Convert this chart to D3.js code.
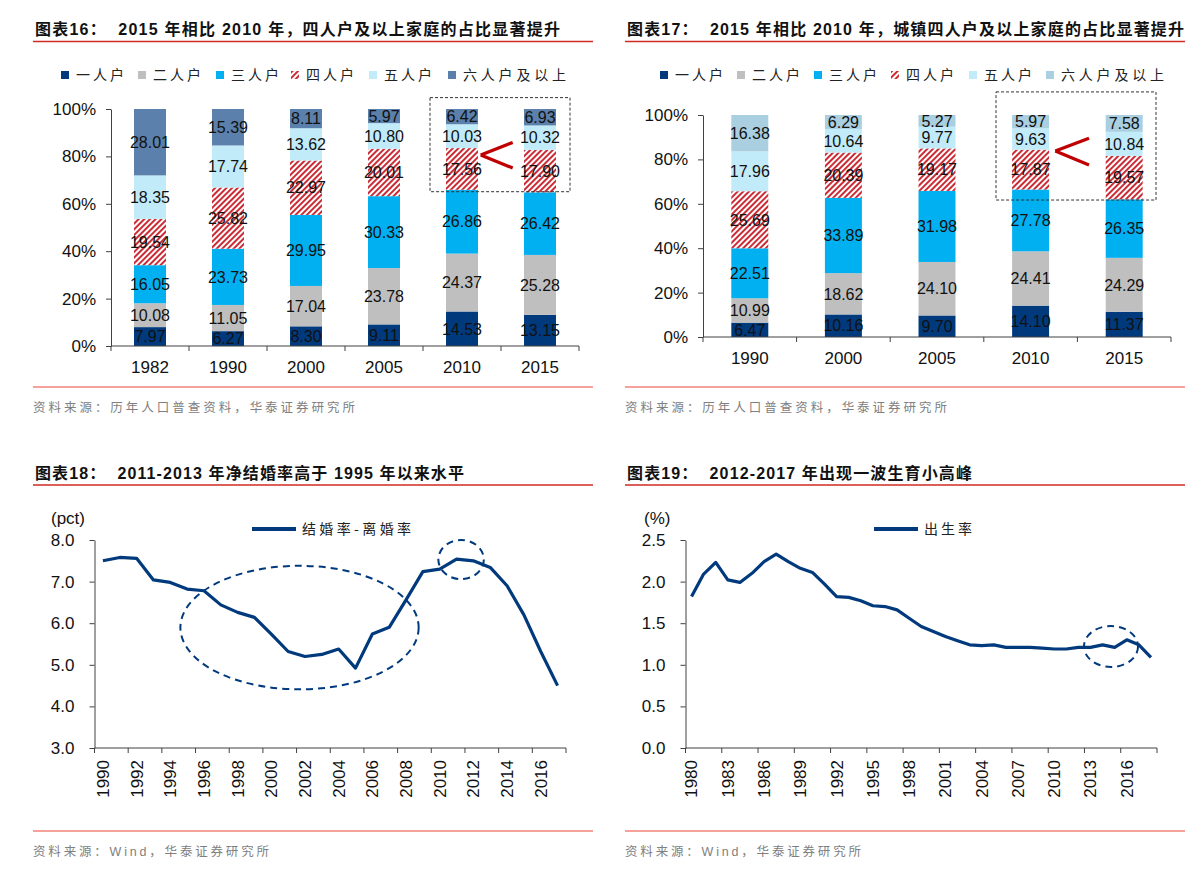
<!DOCTYPE html>
<html><head><meta charset="utf-8">
<script src="https://cdn.jsdelivr.net/npm/d3@7"></script>
<style>body{margin:0;background:#fff}svg{display:block}</style>
</head><body>
<svg id="c" width="1201" height="878"></svg>
<script>
// ---------- DATA ----------
const seriesNames = ["一人户","二人户","三人户","四人户","五人户","六人户及以上"];

const years16 = ["1982","1990","2000","2005","2010","2015"];
const one16   = [7.97, 6.27, 8.30, 9.11, 14.53, 13.15];
const two16   = [10.08, 11.05, 17.04, 23.78, 24.37, 25.28];
const three16 = [16.05, 23.73, 29.95, 30.33, 26.86, 26.42];
const four16  = [19.54, 25.82, 22.97, 20.01, 17.56, 17.90];
const five16  = [18.35, 17.74, 13.62, 10.80, 10.03, 10.32];
const six16   = [28.01, 15.39, 8.11, 5.97, 6.42, 6.93];

const years17 = ["1990","2000","2005","2010","2015"];
const one17   = [6.47, 10.16, 9.70, 14.10, 11.37];
const two17   = [10.99, 18.62, 24.10, 24.41, 24.29];
const three17 = [22.51, 33.89, 31.98, 27.78, 26.35];
const four17  = [25.69, 20.39, 19.17, 17.87, 19.57];
const five17  = [17.96, 10.64, 9.77, 9.63, 10.84];
const six17   = [16.38, 6.29, 5.27, 5.97, 7.58];

const years18 = ["1990","1991","1992","1993","1994","1995","1996","1997","1998","1999",
  "2000","2001","2002","2003","2004","2005","2006","2007","2008","2009",
  "2010","2011","2012","2013","2014","2015","2016","2017"];
const netMarriage = [7.50,7.58,7.56,7.04,6.98,6.82,6.78,6.44,6.26,6.14,
  5.74,5.32,5.20,5.25,5.38,4.92,5.74,5.90,6.56,7.24,
  7.30,7.54,7.50,7.34,6.90,6.20,5.32,4.50];
const yTicks18 = [3,4,5,6,7,8];

const years19 = ["1980","1981","1982","1983","1984","1985","1986","1987","1988","1989",
  "1990","1991","1992","1993","1994","1995","1996","1997","1998","1999",
  "2000","2001","2002","2003","2004","2005","2006","2007","2008","2009",
  "2010","2011","2012","2013","2014","2015","2016","2017","2018"];
const birthRate = [1.82,2.09,2.23,2.02,1.99,2.10,2.24,2.33,2.24,2.16,
  2.11,1.97,1.82,1.81,1.77,1.71,1.70,1.66,1.56,1.46,
  1.40,1.34,1.29,1.24,1.23,1.24,1.21,1.21,1.21,1.20,
  1.19,1.19,1.21,1.21,1.24,1.21,1.30,1.24,1.09];
const yTicks19 = [0,0.5,1.0,1.5,2.0,2.5];

const pctTicks = [0,0.2,0.4,0.6,0.8,1.0];

// ---------- STYLE ----------
const NAVY = "#003a7d", GRAY = "#bfbfbf", BLUE = "#00b0f0", LBLUE = "#c2ebfa";
const colors16 = [NAVY, GRAY, BLUE, "url(#hatch)", LBLUE, "#5b80ab"];
const colors17 = [NAVY, GRAY, BLUE, "url(#hatch)", LBLUE, "#a9cfe0"];
const NUM = "'Liberation Sans', Arial, 'Noto Sans CJK SC', sans-serif";
const CJK = "'Liberation Sans', 'Noto Sans CJK SC', sans-serif";
const AXIS = "#404040";
const AXFS = 17;

const svg = d3.select("#c");
const defs = svg.append("defs");
const pat = defs.append("pattern").attr("id","hatch").attr("patternUnits","userSpaceOnUse")
  .attr("width",4).attr("height",4).attr("patternTransform","rotate(45)");
pat.append("rect").attr("width",4).attr("height",4).attr("fill","#fff");
pat.append("line").attr("x1",1).attr("y1",-1).attr("x2",1).attr("y2",5)
  .attr("stroke","#c8202a").attr("stroke-width",1.9);

// ---------- FRAME (titles, rules, sources) ----------
function frame(f){
  svg.append("text").attr("x",f.x).attr("y",f.ty).attr("font-family",CJK).attr("font-weight","bold")
    .attr("font-size",16).attr("fill","#111").attr("textLength",f.tw).attr("lengthAdjust","spacing")
    .style("white-space","pre").text(f.title);
  svg.append("line").attr("x1",f.lx0).attr("x2",f.lx1).attr("y1",f.ry).attr("y2",f.ry)
    .attr("stroke","#d02a22").attr("stroke-width",1.5);
  svg.append("line").attr("x1",f.lx0).attr("x2",f.lx1).attr("y1",f.by).attr("y2",f.by)
    .attr("stroke","#f2837a").attr("stroke-width",1.5);
  svg.append("text").attr("x",f.x-2).attr("y",f.sy).attr("font-family",CJK).attr("font-size",12.5)
    .attr("fill","#808080").attr("textLength",f.sw).attr("lengthAdjust","spacing").text(f.source);
}
frame({x:35,ty:35,tw:525,title:"图表16：  2015 年相比 2010 年，四人户及以上家庭的占比显著提升",lx0:33,lx1:593,ry:41.5,by:387,sy:412,sw:322,source:"资料来源：历年人口普查资料，华泰证券研究所"});
frame({x:627,ty:35,tw:557,title:"图表17：  2015 年相比 2010 年，城镇四人户及以上家庭的占比显著提升",lx0:625,lx1:1185,ry:41.5,by:387,sy:412,sw:322,source:"资料来源：历年人口普查资料，华泰证券研究所"});
frame({x:35,ty:479,tw:429,title:"图表18：  2011-2013 年净结婚率高于 1995 年以来水平",lx0:33,lx1:593,ry:485,by:831,sy:856,sw:236,source:"资料来源：Wind，华泰证券研究所"});
frame({x:627,ty:479,tw:345,title:"图表19：  2012-2017 年出现一波生育小高峰",lx0:625,lx1:1185,ry:485,by:831,sy:856,sw:236,source:"资料来源：Wind，华泰证券研究所"});

// ---------- STACKED BAR PANELS ----------
function stackedPanel(o){
  const g = svg.append("g");
  const rows = o.years.map((yr,i)=>{const r={year:yr}; seriesNames.forEach((s,j)=>r[s]=o.series[j][i]); return r;});
  const layers = d3.stack().keys(seriesNames).offset(d3.stackOffsetExpand)(rows);
  const x = d3.scaleBand().domain(o.years).range([o.x0,o.x1]).padding(0);
  const y = d3.scaleLinear().domain([0,1]).range([o.y0,o.y1]);
  const bw = x.bandwidth()*o.barFrac;
  const fmt = d3.format(".2f");

  layers.forEach((layer,j)=>{
    g.append("g").selectAll("rect").data(layer).join("rect")
      .attr("x",d=>x(d.data.year)+(x.bandwidth()-bw)/2).attr("width",bw)
      .attr("y",d=>y(d[1])).attr("height",d=>y(d[0])-y(d[1]))
      .attr("fill",o.colors[j]);
  });
  layers.forEach((layer,j)=>{
    g.append("g").selectAll("text").data(layer).join("text")
      .attr("x",d=>x(d.data.year)+x.bandwidth()/2).attr("y",d=>y((d[0]+d[1])/2))
      .attr("dy","0.36em").attr("text-anchor","middle").attr("font-family",NUM).attr("font-size",16)
      .attr("fill","#111").text(d=>fmt(d.data[layer.key]));
  });

  // y axis
  const ya = g.append("g").attr("transform",`translate(${o.x0},0)`)
    .call(d3.axisLeft(y).tickValues(pctTicks).tickFormat(d3.format(".0%")).tickSize(5).tickSizeOuter(0).tickPadding(10));
  ya.select(".domain").attr("stroke",AXIS);
  ya.selectAll(".tick line").attr("stroke",AXIS);
  ya.selectAll("text").attr("font-family",NUM).attr("font-size",AXFS).attr("fill","#111");
  // x axis
  const xa = g.append("g").attr("transform",`translate(0,${o.y0})`)
    .call(d3.axisBottom(x).tickSize(0).tickPadding(15));
  xa.select(".domain").remove();
  xa.selectAll("text").attr("font-family",NUM).attr("font-size",AXFS).attr("fill","#111");
  g.append("line").attr("x1",o.x0).attr("x2",o.x1).attr("y1",o.y0).attr("y2",o.y0).attr("stroke",AXIS);
  const bounds = o.years.map(d=>x(d)).concat([o.x1]);
  g.append("g").selectAll("line").data(bounds).join("line")
    .attr("x1",d=>d).attr("x2",d=>d).attr("y1",o.y0).attr("y2",o.y0+5).attr("stroke",AXIS);

  // legend
  const lg = g.append("g");
  seriesNames.forEach((s,j)=>{
    lg.append("rect").attr("x",o.legX[j]-4).attr("y",o.legY-4).attr("width",8).attr("height",8).attr("fill",o.colors[j]);
    lg.append("text").attr("x",o.legX[j]+11).attr("y",o.legY).attr("dy","0.36em")
      .attr("font-family","'Noto Sans CJK SC', sans-serif").attr("font-size",14).attr("fill","#222")
      .attr("textLength",s.length>3?103:48).attr("lengthAdjust","spacing").text(s);
  });

  // annotation box + arrow
  const b = o.box;
  const bx0 = x(b.from)+x.bandwidth()/2 - b.padL, bx1 = x(b.to)+x.bandwidth()/2 + b.padR;
  g.append("rect").attr("x",bx0).attr("y",y(b.top)).attr("width",bx1-bx0).attr("height",y(b.bottom)-y(b.top))
    .attr("fill","none").attr("stroke","#333").attr("stroke-width",1).attr("stroke-dasharray","3,2");
  const a = o.arrow;
  const cx0 = x(b.from)+x.bandwidth()/2, step = x.step();
  const tip = [cx0+a.tipF*step, y(a.tipY)];
  [a.upY,a.loY].forEach(v=>{
    g.append("line").attr("x1",tip[0]).attr("y1",tip[1]).attr("x2",cx0+a.endF*step).attr("y2",y(v))
      .attr("stroke","#c00000").attr("stroke-width",3.2).attr("stroke-linecap","butt");
  });
}

stackedPanel({years:years16, series:[one16,two16,three16,four16,five16,six16], colors:colors16,
  x0:111, x1:579, y0:346, y1:109, barFrac:0.41,
  legX:[65,142,220,295,373,452], legY:75,
  box:{from:"2010",to:"2015",padL:32,padR:30,top:1.048,bottom:0.651},
  arrow:{tipF:0.24,endF:0.65,tipY:0.806,upY:0.859,loY:0.751}});

stackedPanel({years:years17, series:[one17,two17,three17,four17,five17,six17], colors:colors17,
  x0:703, x1:1171, y0:337, y1:115, barFrac:0.395,
  legX:[664,741,818,895,973,1050], legY:75,
  box:{from:"2010",to:"2015",padL:34.6,padR:31.8,top:1.104,bottom:0.617},
  arrow:{tipF:0.264,endF:0.624,tipY:0.838,upY:0.895,loY:0.775}});

// ---------- LINE PANELS ----------
function linePanel(o){
  const g = svg.append("g");
  const x = d3.scaleBand().domain(o.cats).range([o.x0,o.x1]).padding(0);
  const y = d3.scaleLinear().domain(o.domain).range([o.y0,o.y1]);
  const bw = x.bandwidth();
  const px = c => x(c)+bw/2;
  const fx = v => o.x0 + (v - (+o.cats[0]) + 0.5)*bw; // fractional year -> pixel

  const ya = g.append("g").attr("transform",`translate(${o.x0},0)`)
    .call(d3.axisLeft(y).tickValues(o.ticks).tickFormat(d3.format(".1f")).tickSize(5).tickSizeOuter(0).tickPadding(15));
  ya.select(".domain").attr("stroke",AXIS);
  ya.selectAll(".tick line").attr("stroke",AXIS);
  ya.selectAll("text").attr("font-family",NUM).attr("font-size",AXFS).attr("fill","#111");

  g.append("line").attr("x1",o.x0).attr("x2",o.x1).attr("y1",o.y0).attr("y2",o.y0).attr("stroke",AXIS);
  const labeled = o.cats.filter((c,i)=>i%o.every===0);
  const bounds = labeled.map(c=>x(c)).concat([o.x1]);
  g.append("g").selectAll("line").data(bounds).join("line")
    .attr("x1",d=>d).attr("x2",d=>d).attr("y1",o.y0).attr("y2",o.y0+5).attr("stroke",AXIS);
  g.append("g").selectAll("text").data(labeled).join("text")
    .attr("transform",c=>`translate(${px(c)},${o.y0+12}) rotate(-90)`)
    .attr("dy","0.35em").attr("text-anchor","end").attr("font-family",NUM).attr("font-size",AXFS)
    .attr("fill","#111").text(c=>c);

  g.append("text").attr("x",o.unitX).attr("y",o.unitY).attr("font-family",NUM).attr("font-size",AXFS)
    .attr("fill","#111").text(o.unit);

  const line = d3.line().x((d,i)=>px(o.cats[i])).y(d=>y(d));
  g.append("path").datum(o.values).attr("d",line).attr("fill","none").attr("stroke",NAVY)
    .attr("stroke-width",3.2).attr("stroke-linejoin","round");

  o.ellipses.forEach(e=>{
    const ex0 = fx(e.x0), ex1 = fx(e.x1), ey0 = y(e.y0), ey1 = y(e.y1);
    g.append("ellipse").attr("cx",(ex0+ex1)/2).attr("cy",(ey0+ey1)/2)
      .attr("rx",(ex1-ex0)/2).attr("ry",Math.abs(ey0-ey1)/2)
      .attr("fill","none").attr("stroke",NAVY).attr("stroke-width",2).attr("stroke-dasharray","7,5");
  });

  g.append("line").attr("x1",o.legX0).attr("x2",o.legX1).attr("y1",o.legY).attr("y2",o.legY)
    .attr("stroke",NAVY).attr("stroke-width",4);
  g.append("text").attr("x",o.legX1+6).attr("y",o.legY).attr("dy","0.36em")
    .attr("font-family","'Noto Sans CJK SC', sans-serif").attr("font-size",14).attr("fill","#222")
    .attr("textLength",o.legW).attr("lengthAdjust","spacing").text(o.legText);
}

linePanel({cats:years18, values:netMarriage, domain:[3,8], ticks:yTicks18,
  x0:94.5, x1:566, y0:748, y1:540, every:2,
  unit:"(pct)", unitX:51, unitY:524,
  ellipses:[{x0:1994.6,x1:2008.75,y0:4.41,y1:7.38},{x0:2009.92,x1:2012.62,y0:7.06,y1:8.0}],
  legX0:252, legX1:296, legY:529, legText:"结婚率-离婚率", legW:109});

linePanel({cats:years19, values:birthRate, domain:[0,2.5], ticks:yTicks19,
  x0:685.5, x1:1157, y0:748, y1:540, every:3,
  unit:"(%)", unitX:644, unitY:524,
  ellipses:[{x0:2012.46,x1:2016.93,y0:0.974,y1:1.466}],
  legX0:874, legX1:918, legY:529, legText:"出生率", legW:48});
</script>
</body></html>
